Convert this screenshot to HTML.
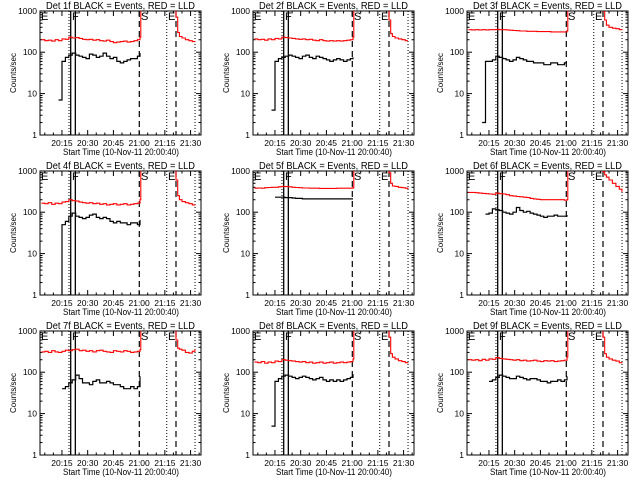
<!DOCTYPE html>
<html><head><meta charset="utf-8">
<style>
html,body{margin:0;padding:0;background:#fff;}
svg{display:block;font-family:"Liberation Sans",sans-serif;}
</style></head>
<body>
<svg id="chart" width="640" height="480" viewBox="0 0 640 480" xmlns="http://www.w3.org/2000/svg"></svg>
<script>
// Shared time grid (minutes after 20:00)
const baseTimes = [3,5,7,9,11,13,15,17,19,21,23,25,27,29,31,33,35,37,39,41,43,45,47,49,51,53,55,57,59,60.5];
const postTimes = [79,80.5,81.5,82.5,83.5,85,87,89,91,92.5];
const jumpTimes = [61,62];
const tickLabels = ["20:15","20:30","20:45","21:00","21:15","21:30"];
const tickMinutes = [15,30,45,60,75,90];
const yTickValues = [1,10,100,1000];
const eventDotted = [19.1,76.1,92.6];
const eventSolid = [20.1,22.8];
const eventDashed = [60.1,81.5];
const detNames = ["1f","2f","3f","4f","5f","6f","7f","8f","9f"];
const N = null;
const redBase = [
 [200,190,195,185,200,190,210,205,230,220,225,215,205,200,205,195,200,190,185,195,180,170,175,180,185,175,180,190,200,230],
 [210,200,205,195,210,200,215,210,230,225,220,215,210,205,210,200,205,195,190,200,190,185,190,185,190,185,190,195,200,230],
 [350,345,350,345,350,345,350,350,355,350,350,345,340,335,330,325,325,320,320,320,315,315,315,315,310,310,310,310,310,330],
 [165,160,170,155,165,160,175,180,200,190,185,175,170,165,170,160,165,155,160,150,155,160,150,155,160,150,155,160,165,200],
 [380,385,380,390,395,400,400,410,420,415,410,400,395,390,385,385,380,380,380,375,375,375,375,375,380,380,380,380,380,390],
 [300,300,295,290,285,280,275,270,290,280,275,265,250,245,240,235,230,225,215,210,205,200,200,200,200,200,200,200,195,200],
 [310,320,300,330,310,300,320,340,330,350,360,330,340,320,330,310,330,340,320,310,300,330,320,310,330,320,300,310,320,350],
 [175,170,180,165,175,170,185,180,200,195,190,185,180,175,180,170,175,165,170,175,165,170,175,165,170,175,170,175,180,210],
 [200,195,200,190,205,195,210,205,225,215,210,205,200,195,200,190,195,185,190,195,185,180,190,185,190,180,185,190,195,230]
];
const redJump = [1300,1300];
const redPost = [
 [1300,1300,700,300,240,220,200,190,180,185],
 [1300,1300,600,280,240,220,210,200,190,190],
 [1300,1300,1000,600,450,400,380,370,350,340],
 [1300,1300,600,250,200,180,170,160,150,145],
 [1300,1300,900,500,430,420,400,390,380,360],
 [1300,1100,950,800,700,600,500,420,360,310],
 [1300,1300,600,380,360,340,300,290,320,360],
 [1300,1300,700,280,230,210,190,180,170,175],
 [1300,1300,700,280,230,210,195,185,170,165]
];
const blackBase = [
 [N,N,N,N,N,7,60,75,85,95,85,80,75,70,90,85,75,80,95,80,70,75,60,55,60,65,70,70,80,95],
 [N,N,N,N,N,4,60,70,75,80,85,80,75,70,80,85,75,70,80,75,70,65,60,65,70,65,60,65,70,75],
 [N,N,N,N,2,60,60,65,80,75,70,65,60,65,75,70,65,60,60,55,55,55,50,50,55,55,50,50,55,55],
 [N,N,N,N,N,0.5,50,60,80,95,80,75,70,75,85,90,75,70,75,70,60,55,60,55,55,50,55,55,50,65],
 [N,N,N,N,N,N,230,230,230,225,225,220,215,215,210,210,210,210,210,210,210,210,210,210,210,210,210,210,210,210],
 [N,N,N,N,N,90,95,120,115,110,100,95,90,100,130,110,100,105,95,90,85,80,75,80,80,85,80,80,80,85],
 [N,N,N,N,N,N,40,45,55,65,85,70,55,55,50,60,65,55,55,60,55,50,50,45,40,40,45,40,45,80],
 [N,N,N,N,N,5,60,70,80,85,80,75,70,75,80,75,70,65,70,75,65,60,65,60,65,60,65,70,75,90],
 [N,N,N,N,N,N,60,65,75,85,80,75,70,70,80,75,70,65,70,70,65,60,60,55,60,60,65,60,65,80]
];

const svg = document.getElementById('chart');
const NS = "http://www.w3.org/2000/svg";
function mk(tag, attrs, parent){
  const e = document.createElementNS(NS, tag);
  for (const k in attrs) e.setAttribute(k, attrs[k]);
  parent.appendChild(e);
  return e;
}
const L=40,R=201,T=11,B=135;
function xs(m){ return L + (m - 2.2) * 1.715; }
function ys(v){ return B - 41.4 * Math.log10(v); }

function stepPath(times, vals, ox, oy){
  let d = "", prev = null;
  for (let i=0;i<times.length;i++){
    const v = vals[i];
    if (v === null || v === undefined){ prev = null; continue; }
    const x = ox + xs(times[i]), y = oy + ys(Math.max(v,0.3));
    if (prev === null) d += "M"+x.toFixed(1)+","+y.toFixed(1);
    else d += "L"+x.toFixed(1)+","+prev.toFixed(1)+"L"+x.toFixed(1)+","+y.toFixed(1);
    prev = y;
  }
  return d;
}

for (let p=0;p<9;p++){
  const ox = [0,213,427][p%3], oy = [0,160,320][Math.floor(p/3)];
  const g = mk('g', {}, svg);
  
  
  const cid = 'clip'+p;
  const cp = mk('clipPath', {id:cid}, g);
  mk('rect', {x:ox+L, y:oy+T, width:R-L, height:B-T}, cp);

  const title = mk('text', {x:ox+46, y:oy+9, 'font-size':'10', fill:'#000', textLength:'149', lengthAdjust:'spacingAndGlyphs'}, g);
  title.textContent = "Det " + detNames[p] + " BLACK = Events, RED = LLD";
  
  

  const box = mk('rect', {x:ox+L, y:oy+T, width:R-L, height:B-T, fill:'none', stroke:'#000', 'stroke-width':1}, g);
  
  

  for (let dec=0; dec<4; dec++){
    for (let k=1;k<=9;k++){
      const v = Math.pow(10,dec)*k;
      const y = oy + ys(v);
      if (y < oy+T) continue;
      const len = k===1?5:2.5;
      mk('line', {x1:ox+L, x2:ox+L+len, y1:y, y2:y, stroke:'#000'}, g);
      mk('line', {x1:ox+R, x2:ox+R-len, y1:y, y2:y, stroke:'#000'}, g);
    }
  }
  yTickValues.forEach(v=>{
    const t = mk('text', {x:ox+37, y:oy+ys(v)+3, 'font-size':'8.5', 'text-anchor':'end', fill:'#000'}, g);
    t.textContent = String(v);
    
    
  });
  for (let m=5; m<=95; m+=5){
    const x = ox + xs(m);
    const major = m%15===0;
    const len = major?5:2.5;
    mk('line', {x1:x, x2:x, y1:oy+B, y2:oy+B-len, stroke:'#000'}, g);
    mk('line', {x1:x, x2:x, y1:oy+T, y2:oy+T+len, stroke:'#000'}, g);
  }
  tickMinutes.forEach((m,i)=>{
    const t = mk('text', {x:ox+xs(m), y:oy+146, 'font-size':'8.5', 'text-anchor':'middle', fill:'#000'}, g);
    t.textContent = tickLabels[i];
    
    
  });
  const xt = mk('text', {x:ox+63, y:oy+155, 'font-size':'9.5', fill:'#000', textLength:'116', lengthAdjust:'spacingAndGlyphs'}, g);
  xt.textContent = "Start Time (10-Nov-11 20:00:40)";
  
  
  const yt = mk('text', {x:0, y:0, 'font-size':'8', 'text-anchor':'middle', fill:'#000', transform:'translate('+(ox+16)+','+(oy+73)+') rotate(-90)'}, g);
  yt.textContent = "Counts/sec";
  
  

  const cg = mk('g', {'clip-path':'url(#'+cid+')'}, g);
  eventDotted.forEach(m=>{
    const l = mk('line', {x1:ox+xs(m), x2:ox+xs(m), y1:oy+T, y2:oy+B, stroke:'#000', 'stroke-dasharray':'1,2'}, cg);
    
    
  });
  eventSolid.forEach(m=>{
    const l = mk('line', {x1:ox+xs(m), x2:ox+xs(m), y1:oy+T, y2:oy+B, stroke:'#000', 'stroke-width':1.3}, cg);
    
    
  });
  eventDashed.forEach(m=>{
    const l = mk('line', {x1:ox+xs(m), x2:ox+xs(m), y1:oy+T, y2:oy+B, stroke:'#000', 'stroke-width':1.2, 'stroke-dasharray':'6,4'}, cg);
    
    
  });
  [["E",41],["F",72],["S",141],["E",168]].forEach(a=>{
    const t = mk('text', {x:ox+a[1], y:oy+20, 'font-size':'11', fill:'#000'}, g);
    t.textContent = a[0];
    
    
  });
  const rt = baseTimes.concat(jumpTimes), rv = redBase[p].concat(redJump);
  const red = mk('path', {d:stepPath(rt, rv, ox, oy), fill:'none', stroke:'#f00', 'stroke-width':1.1}, cg);
  
  
  const red2 = mk('path', {d:stepPath(postTimes, redPost[p], ox, oy), fill:'none', stroke:'#f00', 'stroke-width':1.1}, cg);
  
  
  const blk = mk('path', {d:stepPath(baseTimes, blackBase[p], ox, oy), fill:'none', stroke:'#000', 'stroke-width':1.2}, cg);
  
  
}
</script>
</body></html>
